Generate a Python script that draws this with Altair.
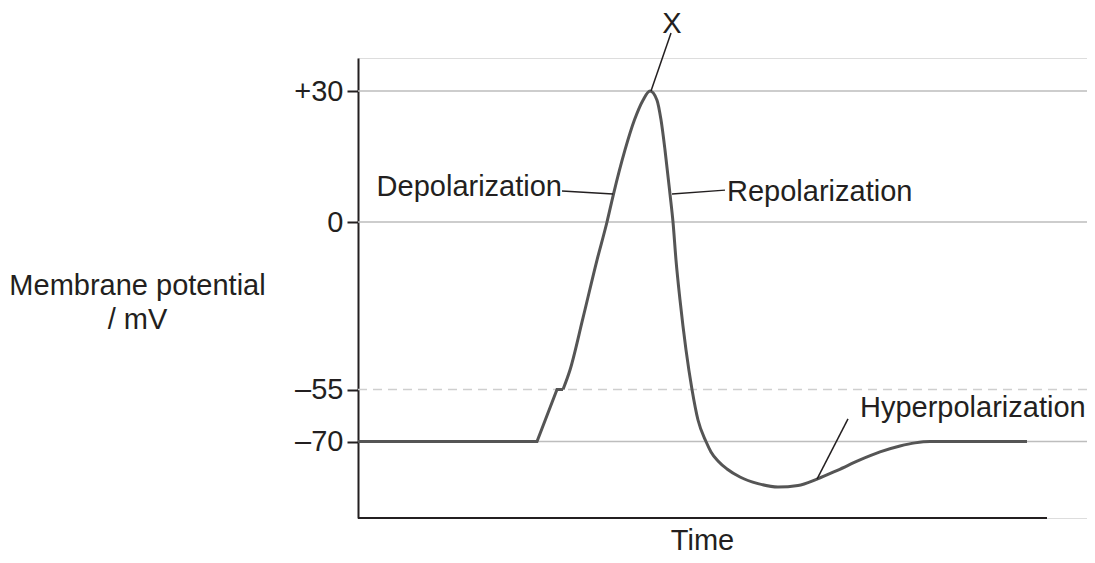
import altair as alt
import pandas as pd

# ---- data (time in arbitrary units, potential in mV) ----
rise_t = [0.00, 1.79, 1.99, 2.05]
rise_mv = [-70, -70, -55, -55]

spike_t = [2.05, 2.12, 2.25, 2.39, 2.49, 2.555, 2.67, 2.765, 2.85, 2.92, 2.99, 3.03,
           3.07, 3.12, 3.15, 3.18, 3.22, 3.28, 3.34, 3.40, 3.48, 3.53, 3.60, 3.69,
           3.82, 4.00, 4.20, 4.40, 4.59, 4.80, 5.02, 5.22, 5.42, 5.57, 5.72, 6.69]
spike_mv = [-55, -48.6, -31.5, -12.5, 0, 6.4, 16.5, 23.4, 27.9, 30, 27.9, 23.4,
            16.5, 6.4, 0, -12.5, -25.6, -42.0, -55, -63.8, -70, -73.0, -75.6, -77.9,
            -80.2, -82.1, -83.1, -82.65, -80.8, -78.2, -75.3, -73.0, -71.3, -70.4, -70, -70]

tick_values = [30, 0, -55, -70]
tick_labels = ["+30", "0", "–55", "–70"]
solid_levels = [30, 0, -70]
dashed_levels = [-55]

label_text = ["X", "Depolarization", "Repolarization", "Hyperpolarization"]
label_t = [3.14, 2.04, 3.69, 5.02]
label_mv = [45.3, 8.0, 6.9, -60.3]
label_align = ["center", "right", "left", "left"]

leader_t = [3.13, 2.04, 3.14, 4.90]
leader_mv = [43.2, 7.1, 6.4, -63.5]
leader_t2 = [2.93, 2.55, 3.67, 4.59]
leader_mv2 = [30, 6.4, 7.3, -80.8]

x_axis_end = 6.89

# ---- tables ----
rise = pd.DataFrame({"t": rise_t, "mv": rise_mv})
spike = pd.DataFrame({"t": spike_t, "mv": spike_mv})
solid = pd.DataFrame({"mv": solid_levels})
dashed = pd.DataFrame({"mv": dashed_levels})
labels = pd.DataFrame({"t": label_t, "mv": label_mv, "text": label_text, "align": label_align})
leaders = pd.DataFrame({"t": leader_t, "mv": leader_mv, "t2": leader_t2, "mv2": leader_mv2})
xaxis = pd.DataFrame({"t": [0], "t2": [x_axis_end], "mv": [-92]})

W, H = 729, 460
FONT = "Liberation Sans"
INK = "#231f20"

label_expr = " : ".join(
    f"datum.value == {v} ? '{l}'" for v, l in zip(tick_values, tick_labels)
) + " : ''"

xscale = alt.Scale(domain=[0, 7.29], nice=False, zero=False)
yscale = alt.Scale(domain=[-92, -70, -55, 0, 30, 37.5],
                   range=[460, 383.5, 331.5, 164, 33, 0],
                   nice=False, zero=False)

X = alt.X("t:Q", scale=xscale,
          axis=alt.Axis(title="Time", labels=False, ticks=False, domain=False, grid=False,
                        titleFont=FONT, titleFontSize=29, titleFontWeight="normal",
                        titleColor=INK, titleX=344, titleY=22, titleBaseline="middle",
                        titleAlign="center"))
Y = alt.Y("mv:Q", scale=yscale,
          axis=alt.Axis(title=["Membrane potential", "/ mV"], values=tick_values,
                        labelExpr=label_expr, labelFont=FONT, labelFontSize=29,
                        labelColor=INK, labelPadding=4, ticks=True, tickSize=11,
                        tickWidth=2, tickColor=INK, domain=True, domainWidth=2,
                        domainColor=INK, grid=False,
                        titleFont=FONT, titleFontSize=29, titleFontWeight="normal",
                        titleColor=INK, titleAngle=0, titleX=-221, titleY=227,
                        titleAlign="center", titleBaseline="middle",
                        titleLineHeight=34))

grid_solid = alt.Chart(solid).mark_rule(color="#bdbdbd", strokeWidth=1.5).encode(
    y=alt.Y("mv:Q", scale=yscale), x=alt.datum(0, scale=xscale), x2=alt.datum(7.29))
grid_dashed = alt.Chart(dashed).mark_rule(color="#cfcfcf", strokeWidth=1.5,
                                          strokeDash=[9, 6]).encode(
    y=alt.Y("mv:Q", scale=yscale), x=alt.datum(0, scale=xscale), x2=alt.datum(7.29))

line_rise = alt.Chart(rise).mark_line(color="#555555", strokeWidth=3,
                                      interpolate="linear").encode(x=X, y=Y, order="t:Q")
line_spike = alt.Chart(spike).mark_line(color="#555555", strokeWidth=3,
                                        interpolate="monotone").encode(x=X, y=Y, order="t:Q")

leader_rules = alt.Chart(leaders).mark_rule(color=INK, strokeWidth=1.5).encode(
    x=alt.X("t:Q", scale=xscale), x2="t2:Q",
    y=alt.Y("mv:Q", scale=yscale), y2="mv2:Q")

x_axis_line = alt.Chart(xaxis).mark_rule(color=INK, strokeWidth=2).encode(
    x=alt.X("t:Q", scale=xscale), x2="t2:Q", y=alt.Y("mv:Q", scale=yscale))

def text_layer(al):
    return alt.Chart(labels).transform_filter(
        alt.datum.align == al
    ).mark_text(font=FONT, fontSize=29, color=INK, align=al, baseline="middle").encode(
        x=alt.X("t:Q", scale=xscale), y=alt.Y("mv:Q", scale=yscale), text="text:N")

chart = alt.layer(
    grid_solid, grid_dashed, line_rise, line_spike, leader_rules, x_axis_line,
    text_layer("center"), text_layer("left"), text_layer("right")
).properties(
    width=W, height=H,
    autosize=alt.AutoSizeParams(type="none"),
    padding={"left": 350, "top": 50, "right": 0, "bottom": 37},
).configure_view(stroke=None).configure(background="white")

chart.save("out.html", embed_options={"renderer": "svg", "actions": False})
